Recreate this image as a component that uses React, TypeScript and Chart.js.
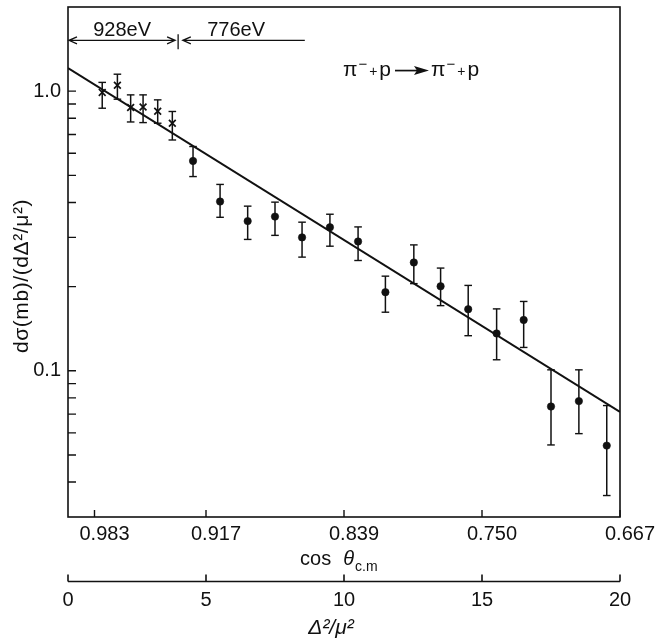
import React, { useEffect, useRef } from 'react';
import { Chart, registerables } from 'chart.js';

Chart.register(...registerables);

const FONT = "'Liberation Sans', 'DejaVu Sans', Arial, sans-serif";
const INK = '#111';

// ---- data (x = Δ²/μ², y = dσ/d(Δ²/μ²) in mb) ----
const CROSS_X = [1.24, 1.79, 2.27, 2.72, 3.25, 3.78];
const CROSS_Y = [0.99, 1.05, 0.874, 0.878, 0.848, 0.768];
const CROSS_HI = [1.075, 1.15, 0.97, 0.97, 0.931, 0.846];
const CROSS_LO = [0.869, 0.936, 0.776, 0.772, 0.768, 0.669];

const DOT_X = [4.53, 5.51, 6.51, 7.5, 8.48, 9.49, 10.51, 11.5, 12.53, 13.5, 14.5, 15.53, 16.51, 17.5, 18.51, 19.52];
const DOT_Y = [0.563, 0.403, 0.343, 0.356, 0.3, 0.326, 0.29, 0.191, 0.244, 0.2005, 0.166, 0.136, 0.152, 0.0745, 0.0779, 0.054];
const DOT_HI = [0.634, 0.464, 0.388, 0.401, 0.34, 0.363, 0.327, 0.218, 0.282, 0.233, 0.202, 0.1665, 0.177, 0.1008, 0.1008, 0.0751];
const DOT_LO = [0.495, 0.354, 0.295, 0.305, 0.255, 0.279, 0.248, 0.162, 0.205, 0.171, 0.1335, 0.1095, 0.1212, 0.0543, 0.0596, 0.0358];

const FIT_X = [0, 20];
const FIT_Y = [1.21, 0.0713];

// ---- axes ----
const X_MIN = 0;
const X_MAX = 20;
const Y_MIN = 0.03;
const Y_MAX = 2.0;
const COS_TICK_POS = [0.96, 5, 10, 15, 20];
const COS_LABELS = ['0.983', '0.917', '0.839', '0.750', '0.667'];
const DELTA_TICKS = [0, 5, 10, 15, 20];
const Y_TICKS = [0.04, 0.05, 0.06, 0.07, 0.08, 0.09, 0.1, 0.2, 0.3, 0.4, 0.5, 0.6, 0.7, 0.8, 0.9, 1.0];
const Y_LABEL_VALUES = [0.1, 1.0];
const Y_LABEL_TEXT = ['0.1', '1.0'];

// ---- annotations (in data units) ----
const RANGE1 = [0, 3.88];
const RANGE2 = [4.16, 8.58];
const RANGE_DIVIDER = 3.99;
const RANGE_Y = 1.52;
const RANGE_LABEL_Y = 1.65;
const RANGE_LABELS = ['928eV', '776eV'];
const RANGE_LABEL_X = [1.96, 6.09];
const REACTION_X = 9.96;
const REACTION_Y = 1.18;
const Y_TITLE = 'dσ(mb)/(dΔ²/μ²)';
const X2_TITLE = 'Δ²/μ²';

type Part = { text?: string; size?: number; italic?: boolean; dy?: number; gap?: number; arrow?: number };

function drawParts(ctx: CanvasRenderingContext2D, x: number, baseY: number, parts: Part[]) {
  let cx = x;
  ctx.textAlign = 'left';
  ctx.textBaseline = 'alphabetic';
  for (const p of parts) {
    if (p.arrow) {
      const midY = baseY - 5.5;
      ctx.beginPath();
      ctx.lineWidth = 1.7;
      ctx.moveTo(cx, midY);
      ctx.lineTo(cx + p.arrow - 10, midY);
      ctx.stroke();
      ctx.beginPath();
      ctx.moveTo(cx + p.arrow, midY);
      ctx.lineTo(cx + p.arrow - 15, midY - 4.5);
      ctx.lineTo(cx + p.arrow - 12, midY);
      ctx.lineTo(cx + p.arrow - 15, midY + 4.5);
      ctx.closePath();
      ctx.fill();
      cx += p.arrow + (p.gap || 0);
      continue;
    }
    ctx.font = `${p.italic ? 'italic ' : ''}${p.size}px ${FONT}`;
    ctx.fillText(p.text || '', cx, baseY + (p.dy || 0));
    cx += ctx.measureText(p.text || '').width + (p.gap || 0);
  }
}

function arrowHead(ctx: CanvasRenderingContext2D, x: number, y: number, dir: number) {
  ctx.moveTo(x + dir * 8, y - 3.5);
  ctx.lineTo(x, y);
  ctx.lineTo(x + dir * 8, y + 3.5);
}

const paperPlugin = {
  id: 'paper',
  afterDraw(chart: any) {
    const { ctx, chartArea: a, scales } = chart;
    const xs = scales.x;
    const x2 = scales.x2;
    const ys = scales.y;
    ctx.save();
    ctx.strokeStyle = INK;
    ctx.fillStyle = INK;
    ctx.lineCap = 'butt';

    // frame
    ctx.lineWidth = 1.6;
    ctx.strokeRect(a.left, a.top, a.right - a.left, a.bottom - a.top);

    // inward ticks
    ctx.lineWidth = 1.4;
    ctx.beginPath();
    ys.ticks.forEach((t: any) => {
      const py = ys.getPixelForValue(t.value);
      if (py > a.top + 1 && py < a.bottom - 1) {
        ctx.moveTo(a.left, py);
        ctx.lineTo(a.left + 8, py);
      }
    });
    xs.ticks.forEach((t: any) => {
      const px = xs.getPixelForValue(t.value);
      ctx.moveTo(px, a.bottom);
      ctx.lineTo(px, a.bottom - 7);
    });
    ctx.stroke();

    // second (Δ²/μ²) axis line with upward ticks
    const ly = x2.top + 0.5;
    ctx.lineWidth = 1.6;
    ctx.beginPath();
    ctx.moveTo(x2.left, ly);
    ctx.lineTo(x2.right, ly);
    x2.ticks.forEach((t: any) => {
      const px = x2.getPixelForValue(t.value);
      ctx.moveTo(px, ly);
      ctx.lineTo(px, ly - 7);
    });
    ctx.stroke();

    // cos θ_c.m title
    drawParts(ctx, xs.getPixelForValue(8.41), xs.top + 48, [
      { text: 'cos', size: 20, gap: 12 },
      { text: 'θ', size: 20, italic: true, gap: 1 },
      { text: 'c.m', size: 14, dy: 6 },
    ]);

    // Δ²/μ² title
    ctx.font = `italic 21px ${FONT}`;
    ctx.textAlign = 'center';
    ctx.textBaseline = 'alphabetic';
    ctx.fillText(X2_TITLE, (x2.left + x2.right) / 2 - 13, x2.top + 53);

    // y title
    ctx.save();
    ctx.translate(28, (a.top + a.bottom) / 2 + 14);
    ctx.rotate(-Math.PI / 2);
    ctx.font = `21px ${FONT}`;
    (ctx as any).letterSpacing = '0.6px';
    ctx.textAlign = 'center';
    ctx.textBaseline = 'alphabetic';
    ctx.fillText(Y_TITLE, 0, 0);
    ctx.restore();

    // energy ranges
    const ry = ys.getPixelForValue(RANGE_Y);
    const r1a = xs.getPixelForValue(RANGE1[0]);
    const r1b = xs.getPixelForValue(RANGE1[1]);
    const r2a = xs.getPixelForValue(RANGE2[0]);
    const r2b = xs.getPixelForValue(RANGE2[1]);
    const dv = xs.getPixelForValue(RANGE_DIVIDER);
    ctx.lineWidth = 1.3;
    ctx.beginPath();
    ctx.moveTo(r1a, ry);
    ctx.lineTo(r1b, ry);
    arrowHead(ctx, r1a + 1, ry, 1);
    arrowHead(ctx, r1b, ry, -1);
    ctx.moveTo(r2a, ry);
    ctx.lineTo(r2b, ry);
    arrowHead(ctx, r2a, ry, 1);
    ctx.moveTo(dv, ry - 6);
    ctx.lineTo(dv, ry + 9);
    ctx.stroke();
    ctx.font = `20px ${FONT}`;
    ctx.textAlign = 'center';
    ctx.textBaseline = 'middle';
    const ly2 = ys.getPixelForValue(RANGE_LABEL_Y);
    RANGE_LABELS.forEach((s, i) => ctx.fillText(s, xs.getPixelForValue(RANGE_LABEL_X[i]), ly2));

    // reaction
    const rx = xs.getPixelForValue(REACTION_X);
    const rBase = ys.getPixelForValue(REACTION_Y) + 5;
    drawParts(ctx, rx, rBase, [
      { text: 'π', size: 21, gap: 1 },
      { text: '−', size: 15, dy: -7, gap: 2 },
      { text: '+', size: 14, gap: 2 },
      { text: 'p', size: 21, gap: 4 },
      { arrow: 34, gap: 2 },
      { text: 'π', size: 21, gap: 1 },
      { text: '−', size: 15, dy: -7, gap: 2 },
      { text: '+', size: 14, gap: 2 },
      { text: 'p', size: 21 },
    ]);
    ctx.restore();
  },
};

export default function App() {
  const ref = useRef<HTMLCanvasElement>(null);
  useEffect(() => {
    const canvas = ref.current;
    if (!canvas) return;
    const bars = [
      ...CROSS_X.map((x, i) => ({ x, lo: CROSS_LO[i], hi: CROSS_HI[i] })),
      ...DOT_X.map((x, i) => ({ x, lo: DOT_LO[i], hi: DOT_HI[i] })),
    ];
    const tickFont = { family: FONT, size: 20 };
    const chart = new Chart(canvas, {
      type: 'scatter',
      data: {
        datasets: [
          {
            data: FIT_X.map((x, i) => ({ x, y: FIT_Y[i] })),
            showLine: true,
            borderColor: INK,
            borderWidth: 2.1,
            pointRadius: 0,
          },
          ...bars.map((b) => ({
            data: [
              { x: b.x, y: b.lo },
              { x: b.x, y: b.hi },
            ],
            showLine: true,
            borderColor: INK,
            borderWidth: 1.5,
            pointStyle: 'line',
            pointRadius: 3.8,
            pointBorderWidth: 1.4,
            pointBorderColor: INK,
          })),
          {
            data: CROSS_X.map((x, i) => ({ x, y: CROSS_Y[i] })),
            pointStyle: 'crossRot',
            pointRadius: 4.8,
            pointBorderWidth: 1.7,
            pointBorderColor: INK,
            pointBackgroundColor: INK,
          },
          {
            data: DOT_X.map((x, i) => ({ x, y: DOT_Y[i] })),
            pointStyle: 'circle',
            pointRadius: 3.7,
            pointBorderWidth: 0.6,
            pointBorderColor: INK,
            pointBackgroundColor: INK,
          },
        ] as any,
      },
      options: {
        animation: false,
        responsive: false,
        events: [],
        layout: { padding: { left: 0, right: 39, top: 7, bottom: 0 } },
        plugins: { legend: { display: false }, tooltip: { enabled: false } },
        scales: {
          x: {
            type: 'linear',
            position: 'bottom',
            weight: 0,
            min: X_MIN,
            max: X_MAX,
            grid: { display: false, drawTicks: false },
            border: { display: false },
            afterBuildTicks: (s: any) => {
              s.ticks = COS_TICK_POS.map((v) => ({ value: v }));
            },
            ticks: {
              autoSkip: false,
              maxRotation: 0,
              padding: 5,
              labelOffset: 10,
              color: INK,
              font: tickFont,
              callback: (v: any) => {
                const i = COS_TICK_POS.indexOf(Number(v));
                return i >= 0 ? COS_LABELS[i] : '';
              },
            },
            afterFit: (s: any) => {
              s.height = 64;
              s.paddingLeft = 0;
              s.paddingRight = 0;
            },
          },
          x2: {
            type: 'linear',
            position: 'bottom',
            weight: 1,
            min: X_MIN,
            max: X_MAX,
            grid: { display: false, drawTicks: false },
            border: { display: false },
            afterBuildTicks: (s: any) => {
              s.ticks = DELTA_TICKS.map((v) => ({ value: v }));
            },
            ticks: {
              autoSkip: false,
              maxRotation: 0,
              padding: 7,
              color: INK,
              font: tickFont,
              callback: (v: any) => String(v),
            },
            afterFit: (s: any) => {
              s.height = 63;
              s.paddingLeft = 0;
              s.paddingRight = 0;
            },
          },
          y: {
            type: 'logarithmic',
            position: 'left',
            min: Y_MIN,
            max: Y_MAX,
            grid: { display: false, drawTicks: false },
            border: { display: false },
            afterBuildTicks: (s: any) => {
              s.ticks = Y_TICKS.map((v) => ({ value: v }));
            },
            ticks: {
              autoSkip: false,
              padding: 7,
              color: INK,
              font: tickFont,
              callback: (v: any) => {
                const i = Y_LABEL_VALUES.indexOf(Number(v));
                return i >= 0 ? Y_LABEL_TEXT[i] : '';
              },
            },
            afterFit: (s: any) => {
              s.width = 68;
              s.paddingTop = 0;
              s.paddingBottom = 0;
            },
          },
        } as any,
      },
      plugins: [paperPlugin],
    });
    return () => chart.destroy();
  }, []);

  return (
    <div style={{ position: 'fixed', left: 0, top: 0, width: 659, height: 644, background: '#fff' }}>
      <canvas ref={ref} width={659} height={644} style={{ display: 'block', width: 659, height: 644 }} />
    </div>
  );
}
